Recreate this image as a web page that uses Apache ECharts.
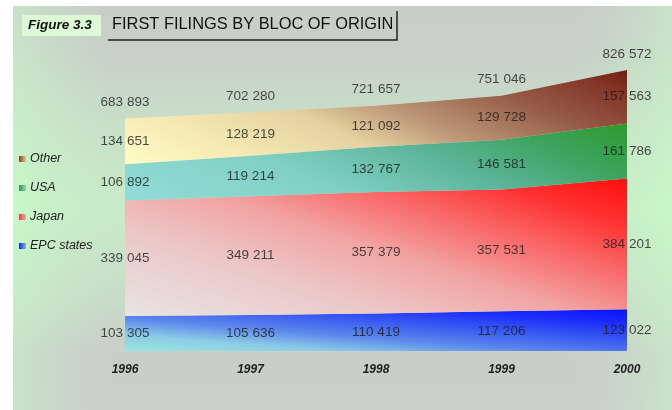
<!DOCTYPE html>
<html>
<head>
<meta charset="utf-8">
<title>First filings by bloc of origin</title>
<script src="https://cdn.jsdelivr.net/npm/echarts@6/dist/echarts.min.js"></script>
<style>
  html, body { margin: 0; padding: 0; background: #fff; }
  #main { width: 672px; height: 410px; }
</style>
</head>
<body>
<div id="main"></div>
<script>
const years = ['1996', '1997', '1998', '1999', '2000']
const epcStates = [103305, 105636, 110419, 117206, 123022]
const japan = [339045, 349211, 357379, 357531, 384201]
const usa = [106892, 119214, 132767, 146581, 161786]
const other = [134651, 128219, 121092, 129728, 157563]
const totals = [683893, 702280, 721657, 751046, 826572]

// bottom -> top
const layers = [
  { name: 'EPC states', data: epcStates },
  { name: 'Japan', data: japan },
  { name: 'USA', data: usa },
  { name: 'Other', data: other },
]

// gradient runs from lower left (pale) to upper right (saturated)
const gradients = {
  'EPC states': { x2: 0.013, y2: -0.95, stops: [[0, '#9ae6de'], [0.2, '#8ccce6'], [0.4, '#5c88ec'], [0.6, '#3a5cf2'], [0.8, '#1e30fa'], [1, '#0810ff']] },
  'Japan': { x2: 0.168, y2: -0.94, stops: [[0, '#e8e4e4'], [0.3, '#ecc6c6'], [0.5, '#f2a4a4'], [0.7, '#fa6464'], [0.85, '#ff3232'], [1, '#ff1010']] },
  'USA': { x2: 0.216, y2: -2.24, stops: [[0, '#92dcd8'], [0.35, '#80d0c4'], [0.6, '#5cb49a'], [0.8, '#3ea460'], [1, '#2c9a2c']] },
  'Other': { x2: 0.229, y2: -1.8, stops: [[0, '#fffcc6'], [0.2, '#f6e8b2'], [0.4, '#e4d2a0'], [0.55, '#bc9676'], [0.75, '#955c48'], [0.9, '#86382a'], [1, '#702010']] },
}

function fmt(v) {
  return String(v).replace(/\B(?=(\d{3})+(?!\d))/g, ' ')
}

function grad(name) {
  const g = gradients[name]
  return {
    type: 'linear',
    x: 0, y: 1, x2: g.x2, y2: g.y2,
    colorStops: g.stops.map((s) => ({ offset: s[0], color: s[1] })),
    global: false,
  }
}

const legendColors = {
  'Other': ['#8a3a24', '#e0c890'],
  'USA': ['#2e9a40', '#8cd8cc'],
  'Japan': ['#ff3030', '#f0b0b0'],
  'EPC states': ['#1020ff', '#80b8ea'],
}

const chartDom = document.getElementById('main')
const myChart = echarts.init(chartDom)

const series = []
layers.forEach((l) => {
  series.push({
    name: l.name,
    type: 'line',
    stack: 'total',
    data: l.data,
    showSymbol: false,
    symbol: 'none',
    lineStyle: { width: 0 },
    areaStyle: { color: grad(l.name), opacity: 1 },
    itemStyle: {
      color: {
        type: 'linear', x: 0, y: 0, x2: 1, y2: 0,
        colorStops: [
          { offset: 0, color: legendColors[l.name][0] },
          { offset: 1, color: legendColors[l.name][1] },
        ],
      },
    },
    silent: true,
  })
})

const labelFont = {
  color: '#1e1e1e',
  fontSize: 13.5,
  fontFamily: 'Liberation Sans, Arial, sans-serif',
}

// value labels in the middle of each band
let below = years.map(() => 0)
layers.forEach((l) => {
  series.push({
    name: l.name + ' label',
    type: 'scatter',
    symbolSize: 0,
    silent: true,
    clip: false,
    z: 10,
    data: l.data.map((v, i) => [i, below[i] + v / 2, v]),
    label: Object.assign({
      show: true,
      position: 'inside',
      formatter: (p) => fmt(p.value[2]),
    }, labelFont),
  })
  below = below.map((b, i) => b + l.data[i])
})

// totals above the stack
series.push({
  name: 'total',
  type: 'scatter',
  symbolSize: 0,
  silent: true,
  clip: false,
  z: 10,
  data: totals.map((v, i) => [i, v]),
  label: Object.assign({
    show: true,
    position: 'top',
    distance: 9,
    formatter: (p) => fmt(p.value[1]),
  }, labelFont),
})

const option = {
  animation: false,
  backgroundColor: '#ffffff',
  graphic: [
    {
      type: 'rect',
      left: 13, top: 6, z: -10,
      shape: { width: 659, height: 404 },
      style: {
        fill: {
          type: 'linear', x: 0, y: 0, x2: 0, y2: 1,
          colorStops: [
            { offset: 0, color: '#c8c9c8' },
            { offset: 0.12, color: '#c8cfc8' },
            { offset: 0.3, color: '#c8e4c8' },
            { offset: 0.5, color: '#c8f6c8' },
            { offset: 0.72, color: '#c8e0c8' },
            { offset: 0.86, color: '#c9cbc9' },
            { offset: 1, color: '#cbcbcb' },
          ],
        },
      },
    },
    {
      type: 'rect',
      left: 13, top: 6, z: -9,
      shape: { width: 659, height: 404 },
      style: {
        fill: {
          type: 'linear', x: 0, y: 0, x2: 1, y2: 0,
          colorStops: [
            { offset: 0, color: 'rgba(200,250,200,0.5)' },
            { offset: 0.15, color: 'rgba(200,212,200,0.3)' },
            { offset: 0.85, color: 'rgba(200,212,200,0.3)' },
            { offset: 1, color: 'rgba(200,250,200,0.5)' },
          ],
        },
      },
    },
    {
      type: 'rect',
      left: 22, top: 15,
      shape: { width: 79, height: 21 },
      style: { fill: '#dcfad6' },
    },
    {
      type: 'text',
      left: 28, top: 18,
      style: {
        text: 'Figure 3.3',
        fontSize: 13.5,
        fontStyle: 'italic',
        fontWeight: 'bold',
        fontFamily: 'Liberation Sans, Arial, sans-serif',
        fill: '#111',
      },
    },
    {
      type: 'text',
      left: 112, top: 16,
      style: {
        text: 'FIRST FILINGS BY BLOC OF ORIGIN',
        fontSize: 16.4,
        fontFamily: 'Liberation Sans, Arial, sans-serif',
        fill: '#111',
      },
    },
    {
      type: 'polyline',
      shape: { points: [[108, 40], [397, 40], [397, 11]] },
      style: { stroke: '#222', lineWidth: 1.5, fill: null },
    },
  ],
  legend: {
    orient: 'vertical',
    left: 14,
    top: 147,
    itemWidth: 7,
    itemHeight: 6,
    itemGap: 15,
    icon: 'rect',
    selectedMode: false,
    data: ['Other', 'USA', 'Japan', 'EPC states'],
    textStyle: {
      color: '#222',
      fontSize: 12.5,
      fontStyle: 'italic',
      fontFamily: 'Liberation Sans, Arial, sans-serif',
      lineHeight: 14,
      padding: [0, 0, 0, -1],
    },
  },
  grid: {
    left: 125,
    right: 45,
    top: 45,
    bottom: 59,
  },
  xAxis: {
    type: 'category',
    data: years,
    boundaryGap: false,
    axisLine: { show: false },
    axisTick: { show: false },
    axisLabel: {
      margin: 13,
      color: '#222',
      fontSize: 12,
      fontStyle: 'italic',
      fontWeight: 'bold',
      fontFamily: 'Liberation Sans, Arial, sans-serif',
    },
  },
  yAxis: {
    type: 'value',
    show: false,
    min: 0,
    max: 900000,
    splitLine: { show: false },
  },
  series: series,
}

myChart.setOption(option)
</script>
</body>
</html>
